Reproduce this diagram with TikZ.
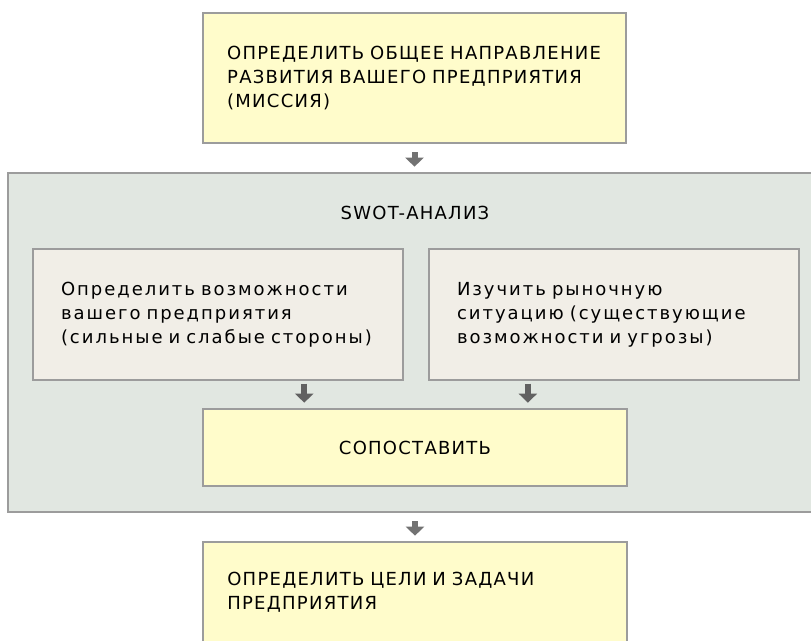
\documentclass[tikz,border=0pt]{standalone}
\usepackage{fontspec}
\usepackage{tikz}
\usetikzlibrary{arrows.meta,calc}
\newfontfamily\capsfont{DejaVu Sans}[LetterSpace=7]
\newfontfamily\smallfont{DejaVu Sans}[LetterSpace=11]
\definecolor{BoxLine}{HTML}{9C9C9C}
\definecolor{PaleYellow}{HTML}{FFFCCB}
\definecolor{SwotGreen}{HTML}{E1E7E1}
\definecolor{StepBeige}{HTML}{F1EEE7}
\definecolor{ArrowGray}{HTML}{727272}

\tikzset{
  box/.style={draw=BoxLine,line width=1.5pt,inner ysep=0pt,align=left},
  flow/.style={ArrowGray,line width=4.5pt,-{Triangle[width=13.5pt 0,length=6.75pt 0]}},
}

\begin{document}
\begin{tikzpicture}[x=0.75pt,y=-0.75pt,font=\fontsize{13.5}{18}\capsfont]
\useasboundingbox (0,0) rectangle (811,640);
\fill[white] (0,0) rectangle (811,640);

% outer SWOT frame, its right side runs off the page
\node[box,fill=SwotGreen,minimum width=605.25pt,minimum height=254.25pt] (swot) at (411.5,342.5) {};
\node (swot-title) at (415,213) {SWOT-АНАЛИЗ};

\node[box,fill=PaleYellow,minimum width=317.25pt,minimum height=97.5pt,
      text width=281pt,inner xsep=18.125pt] (mission) at (414.5,78)
 {ОПРЕДЕЛИТЬ ОБЩЕЕ НАПРАВЛЕНИЕ\\ РАЗВИТИЯ ВАШЕГО ПРЕДПРИЯТИЯ\\ (МИССИЯ)};

\node[box,fill=StepBeige,minimum width=277.5pt,minimum height=98.25pt,
      text width=235.5pt,inner xsep=21pt,font=\fontsize{13.5}{18}\smallfont] (inleft) at (218,314.5)
 {Определить возможности\\ вашего предприятия\\ (сильные и слабые стороны)};
\node[box,fill=StepBeige,minimum width=277.5pt,minimum height=98.25pt,
      text width=235.5pt,inner xsep=21pt,font=\fontsize{13.5}{18}\smallfont] (inright) at (614,314.5)
 {Изучить рыночную\\ ситуацию (существующие\\ возможности и угрозы)};

\node[box,fill=PaleYellow,minimum width=318pt,minimum height=57.75pt,align=center] (match) at (415,447.5)
 {СОПОСТАВИТЬ};

% bottom edge of this box lies below the page
\node[box,fill=PaleYellow,minimum width=318pt,minimum height=75pt,
      text width=281.5pt,inner xsep=18.25pt] (goals) at (415,592)
 {ОПРЕДЕЛИТЬ ЦЕЛИ И ЗАДАЧИ\\ ПРЕДПРИЯТИЯ};

\coordinate (l-in) at ($(match.north west)!.24!(match.north east)$);
\coordinate (r-in) at ($(match.north west)!.765!(match.north east)$);

\draw[flow,shorten <=6pt,shorten >=4pt] (mission.south) -- (mission.south |- swot.north);
\draw[flow,ArrowGray!85!black,shorten <=2pt,shorten >=4pt] (l-in |- inleft.south) -- (l-in);
\draw[flow,ArrowGray!85!black,shorten <=2pt,shorten >=4pt] (r-in |- inright.south) -- (r-in);
\draw[flow,shorten <=6pt,shorten >=4pt] (goals.north |- swot.south) -- (goals.north);
\end{tikzpicture}
\end{document}
